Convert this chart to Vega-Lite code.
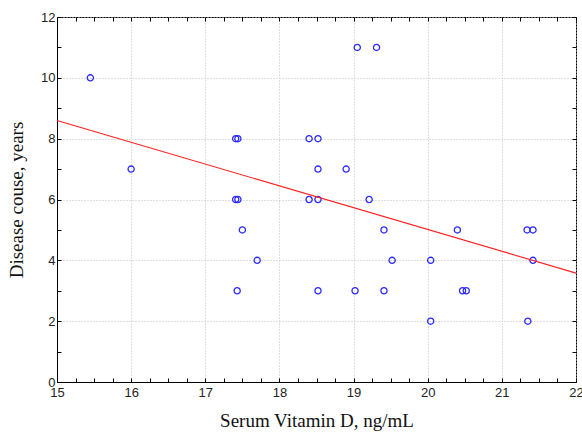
{
  "$schema": "https://vega.github.io/schema/vega-lite/v6.json",
  "width": 519,
  "height": 365,
  "autosize": {"type": "none"},
  "padding": {"left": 57, "top": 17, "right": 6, "bottom": 51},
  "background": "white",
  "config": {
    "view": {"stroke": "#000000", "strokeWidth": 1},
    "axis": {
      "domainColor": "#000000",
      "tickColor": "#000000",
      "labelFont": "Liberation Sans",
      "labelFontSize": 13,
      "labelColor": "#222222",
      "titleFont": "Liberation Serif",
      "titleFontSize": 19,
      "titleFontWeight": "normal",
      "titleColor": "#111111",
      "gridColor": "#bfbfbf",
      "gridDash": [1, 2],
      "gridWidth": 1
    }
  },
  "datasets": {
    "pts": [
      {"vitd": 15.45, "years": 10},
      {"vitd": 16.0, "years": 7},
      {"vitd": 17.41, "years": 8},
      {"vitd": 17.44, "years": 8},
      {"vitd": 17.41, "years": 6},
      {"vitd": 17.44, "years": 6},
      {"vitd": 17.5, "years": 5},
      {"vitd": 17.7, "years": 4},
      {"vitd": 17.43, "years": 3},
      {"vitd": 18.4, "years": 8},
      {"vitd": 18.52, "years": 8},
      {"vitd": 18.52, "years": 7},
      {"vitd": 18.9, "years": 7},
      {"vitd": 18.4, "years": 6},
      {"vitd": 18.52, "years": 6},
      {"vitd": 19.21, "years": 6},
      {"vitd": 19.05, "years": 11},
      {"vitd": 19.31, "years": 11},
      {"vitd": 19.41, "years": 5},
      {"vitd": 20.4, "years": 5},
      {"vitd": 21.34, "years": 5},
      {"vitd": 21.42, "years": 5},
      {"vitd": 19.52, "years": 4},
      {"vitd": 20.04, "years": 4},
      {"vitd": 21.42, "years": 4},
      {"vitd": 18.52, "years": 3},
      {"vitd": 19.02, "years": 3},
      {"vitd": 19.41, "years": 3},
      {"vitd": 20.47, "years": 3},
      {"vitd": 20.52, "years": 3},
      {"vitd": 20.04, "years": 2},
      {"vitd": 21.35, "years": 2}
    ],
    "fit": [
      {"vitd": 15, "years": 8.6},
      {"vitd": 22, "years": 3.58}
    ]
  },
  "layer": [
    {
      "data": {"name": "pts"},
      "mark": {"type": "point", "shape": "circle", "filled": false, "stroke": "#2b2bff", "strokeWidth": 1.3, "size": 38, "opacity": 1},
      "encoding": {
        "x": {
          "field": "vitd", "type": "quantitative",
          "scale": {"domain": [15, 22], "nice": false, "zero": false},
          "axis": {
            "title": "Serum Vitamin D, ng/mL",
            "values": [15,15.25,15.5,15.75,16,16.25,16.5,16.75,17,17.25,17.5,17.75,18,18.25,18.5,18.75,19,19.25,19.5,19.75,20,20.25,20.5,20.75,21,21.25,21.5,21.75,22],
            "labelExpr": "datum.value % 1 == 0 ? format(datum.value, 'd') : ''",
            "gridOpacity": {"condition": {"test": "datum.value % 1 == 0", "value": 1}, "value": 0},
            "tickSize": -4,
            "labelPadding": 8,
            "titlePadding": 12,
            "labelFlush": false,
            "labelOverlap": false
          }
        },
        "y": {
          "field": "years", "type": "quantitative",
          "scale": {"domain": [0, 12], "nice": false},
          "axis": {
            "title": "Disease couse, years",
            "values": [0,1,2,3,4,5,6,7,8,9,10,11,12],
            "labelExpr": "datum.value % 2 == 0 ? format(datum.value, 'd') : ''",
            "gridOpacity": {"condition": {"test": "datum.value % 2 == 0", "value": 1}, "value": 0},
            "tickSize": -4,
            "labelPadding": 6,
            "titlePadding": 14,
            "labelFlush": false,
            "labelOverlap": false
          }
        }
      }
    },
    {
      "data": {"name": "fit"},
      "mark": {"type": "line", "color": "#ff2020", "strokeWidth": 1.1},
      "encoding": {
        "x": {
          "field": "vitd", "type": "quantitative",
          "axis": {
            "orient": "top", "title": null, "labels": false, "grid": false, "domain": false,
            "values": [15,15.25,15.5,15.75,16,16.25,16.5,16.75,17,17.25,17.5,17.75,18,18.25,18.5,18.75,19,19.25,19.5,19.75,20,20.25,20.5,20.75,21,21.25,21.5,21.75,22],
            "tickSize": -4
          }
        },
        "y": {
          "field": "years", "type": "quantitative",
          "axis": {
            "orient": "right", "title": null, "labels": false, "grid": false, "domain": false,
            "values": [0,1,2,3,4,5,6,7,8,9,10,11,12],
            "tickSize": -4
          }
        }
      }
    }
  ],
  "resolve": {"axis": {"x": "independent", "y": "independent"}}
}
